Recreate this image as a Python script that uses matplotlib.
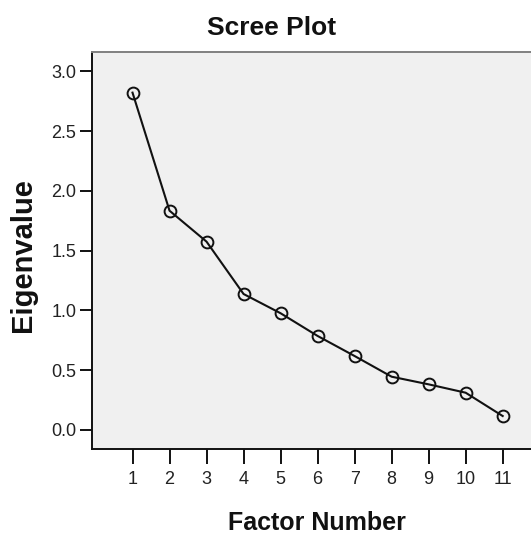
"""Scree plot of factor eigenvalues."""

import matplotlib
matplotlib.use('Agg')
from matplotlib import pyplot as plt

# data
factor_number = [1, 2, 3, 4, 5, 6, 7, 8, 9, 10, 11]
eigenvalue = [2.823, 1.835, 1.576, 1.138, 0.977, 0.787, 0.619, 0.446, 0.382, 0.312, 0.117]
y_ticks = [0.0, 0.5, 1.0, 1.5, 2.0, 2.5, 3.0]

plt.rcParams['font.family'] = ['Liberation Sans', 'DejaVu Sans']

fig = plt.figure(figsize=(5.31, 5.34), dpi=100)
ax = fig.add_axes([91.5 / 531, 85 / 534, 1 - 91.5 / 531 + 0.01, (449 - 52) / 534])
ax.set_facecolor('#f0f0f0')

ax.plot(factor_number, eigenvalue, color='#111111', linewidth=1.5,
        marker='o', markersize=8.5, markerfacecolor='none',
        markeredgecolor='#111111', markeredgewidth=1.4)

ax.set_xlim(-0.108, 11.765 + 0.01 * 531 / 37)
ax.set_ylim(-0.159, 3.163)
ax.set_xticks(factor_number)
ax.set_yticks(y_ticks)
ax.set_yticklabels([f'{v:.1f}' for v in y_ticks])

ax.tick_params(axis='x', direction='out', length=11, width=1.4, color='#111111',
               labelsize=13, labelcolor='#222222', pad=5)
ax.tick_params(axis='y', direction='out', length=9, width=1.4, color='#111111',
               labelsize=13, labelcolor='#222222', pad=2)

for side in ['left', 'bottom']:
    ax.spines[side].set_color('#111111')
    ax.spines[side].set_linewidth(1.4)
ax.spines['top'].set_color('#808080')
ax.spines['top'].set_linewidth(1.4)
ax.spines['right'].set_visible(False)

fig.text(272 / 531, 1 - 28 / 534, 'Scree Plot', ha='center', va='center',
         fontsize=19, fontweight='bold', color='#111111')
fig.text(317 / 531, 1 - 523 / 534, 'Factor Number', ha='center', va='center',
         fontsize=18, fontweight='bold', color='#111111')
fig.text(23 / 531, 1 - 255 / 534, 'Eigenvalue', ha='center', va='center',
         rotation=90, fontsize=21, fontweight='bold', color='#111111')

plt.savefig('out.png', dpi=100)
